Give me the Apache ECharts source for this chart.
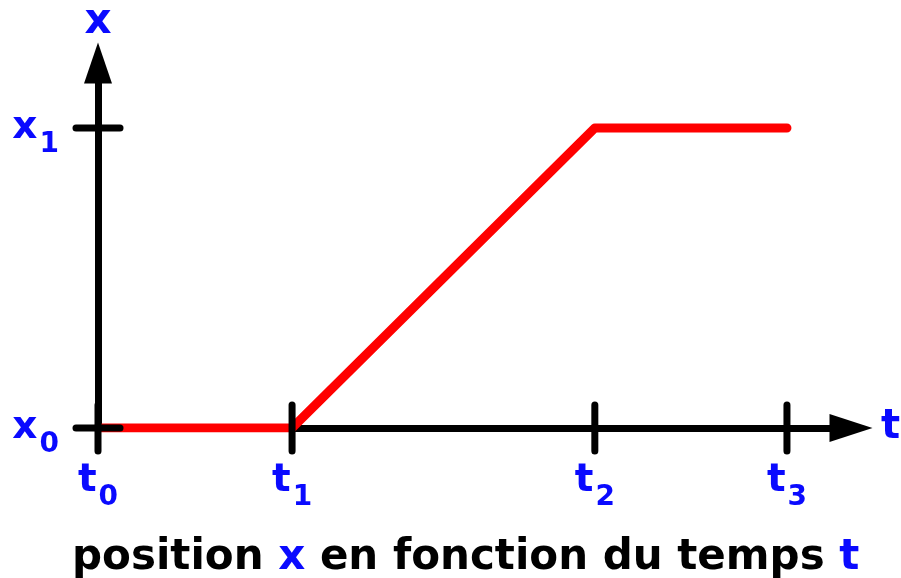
<!DOCTYPE html>
<html>
<head>
<meta charset="utf-8">
<script src="https://cdn.jsdelivr.net/npm/echarts@6/dist/echarts.min.js"></script>
<style>
html,body{margin:0;padding:0;background:#fff}
#main{width:901px;height:578px}
</style>
</head>
<body>
<div id="main"></div>
<script>
// graduations de l'axe du temps (t0..t3)
var tTicks = [0, 1, 2.56, 3.55];
var tSubs = ['0', '1', '2', '3'];
// graduations de l'axe des positions (x0, x1)
var xTicks = [0, 1];
var xSubs = ['0', '1'];
// la courbe x(t)
var posT = [0, 1, 2.56, 3.55];
var posX = [0, 0, 1, 1];

var BLEU = '#0a0aff';
var POLICE = 'DejaVu Sans';

var chart = echarts.init(document.getElementById('main'));

var courbe = [];
for (var i = 0; i < posT.length; i++) {
	courbe.push([posT[i], posX[i]]);
}

// petites barres des graduations, qui traversent l'axe (0 = sur l'axe t, 1 = sur l'axe x)
var graduations = [];
tTicks.forEach(function(t){ graduations.push([t, 0, 0]); });
xTicks.forEach(function(x){ graduations.push([0, x, 1]); });

// lettre + indice (l'indice descend grace au padding haut)
var richLabel = {
	b: {fontFamily: POLICE, fontWeight: 'bold', fontSize: 39, lineHeight: 40, color: BLEU},
	s: {fontFamily: POLICE, fontWeight: 'bold', fontSize: 28, lineHeight: 28, color: BLEU, padding: [34, 0, 0, 2]}
};

var option = {
	backgroundColor: '#fff',
	animation: false,
	title: {
		left: 67,
		top: 530,
		text: '{a|position }{c|x}{a| en fonction du temps }{c|t}',
		textStyle: {
			rich: {
				a: {fontFamily: POLICE, fontWeight: 'bold', fontSize: 42, lineHeight: 46, color: '#000'},
				c: {fontFamily: POLICE, fontWeight: 'bold', fontSize: 42, lineHeight: 46, color: BLEU}
			}
		}
	},
	grid: {left: 98, right: 50, top: 63, bottom: 150, outerBoundsMode: 'none', containLabel: false},
	xAxis: {
		type: 'value',
		min: 0,
		max: 3.88,
		name: 't',
		nameLocation: 'end',
		nameGap: 30,
		nameTextStyle: {fontFamily: POLICE, fontWeight: 'bold', fontSize: 40, color: BLEU, verticalAlign: 'middle', padding: [0, 0, 8, 0]},
		splitLine: {show: false},
		axisTick: {show: false},
		axisLine: {
			lineStyle: {color: '#000', width: 7},
			symbol: ['none', 'triangle'],
			symbolSize: [28, 43]
		},
		axisLabel: {
			customValues: tTicks,
			margin: 33,
			formatter: function(v){
				var k = tTicks.indexOf(v);
				return '{b|t}{s|' + tSubs[k] + '}';
			},
			rich: richLabel
		}
	},
	yAxis: {
		type: 'value',
		min: 0,
		max: 1.2167,
		name: 'x',
		nameLocation: 'end',
		nameGap: 20,
		nameTextStyle: {fontFamily: POLICE, fontWeight: 'bold', fontSize: 42, color: BLEU},
		splitLine: {show: false},
		axisTick: {show: false},
		axisLine: {
			lineStyle: {color: '#000', width: 7},
			symbol: ['none', 'triangle'],
			symbolSize: [28, 41]
		},
		axisLabel: {
			customValues: xTicks,
			margin: 39,
			formatter: function(v){
				var k = xTicks.indexOf(v);
				return '{b|x}{s|' + xSubs[k] + '}';
			},
			rich: richLabel
		}
	},
	series: [
		{
			name: 'position',
			type: 'line',
			data: courbe,
			symbol: 'none',
			z: 3,
			lineStyle: {color: '#ff0000', width: 9, cap: 'round', join: 'round'}
		},
		{
			name: 'graduations',
			type: 'custom',
			clip: false,
			z: 4,
			data: graduations,
			renderItem: function(params, api){
				var p = api.coord([api.value(0), api.value(1)]);
				var shape = api.value(2) === 0
					? {x1: p[0], y1: p[1] - 23, x2: p[0], y2: p[1] + 23}
					: {x1: p[0] - 22, y1: p[1], x2: p[0] + 22, y2: p[1]};
				return {type: 'line', shape: shape, style: {stroke: '#000', lineWidth: 7, lineCap: 'round'}};
			}
		}
	]
};
chart.setOption(option);
</script>
</body>
</html>
